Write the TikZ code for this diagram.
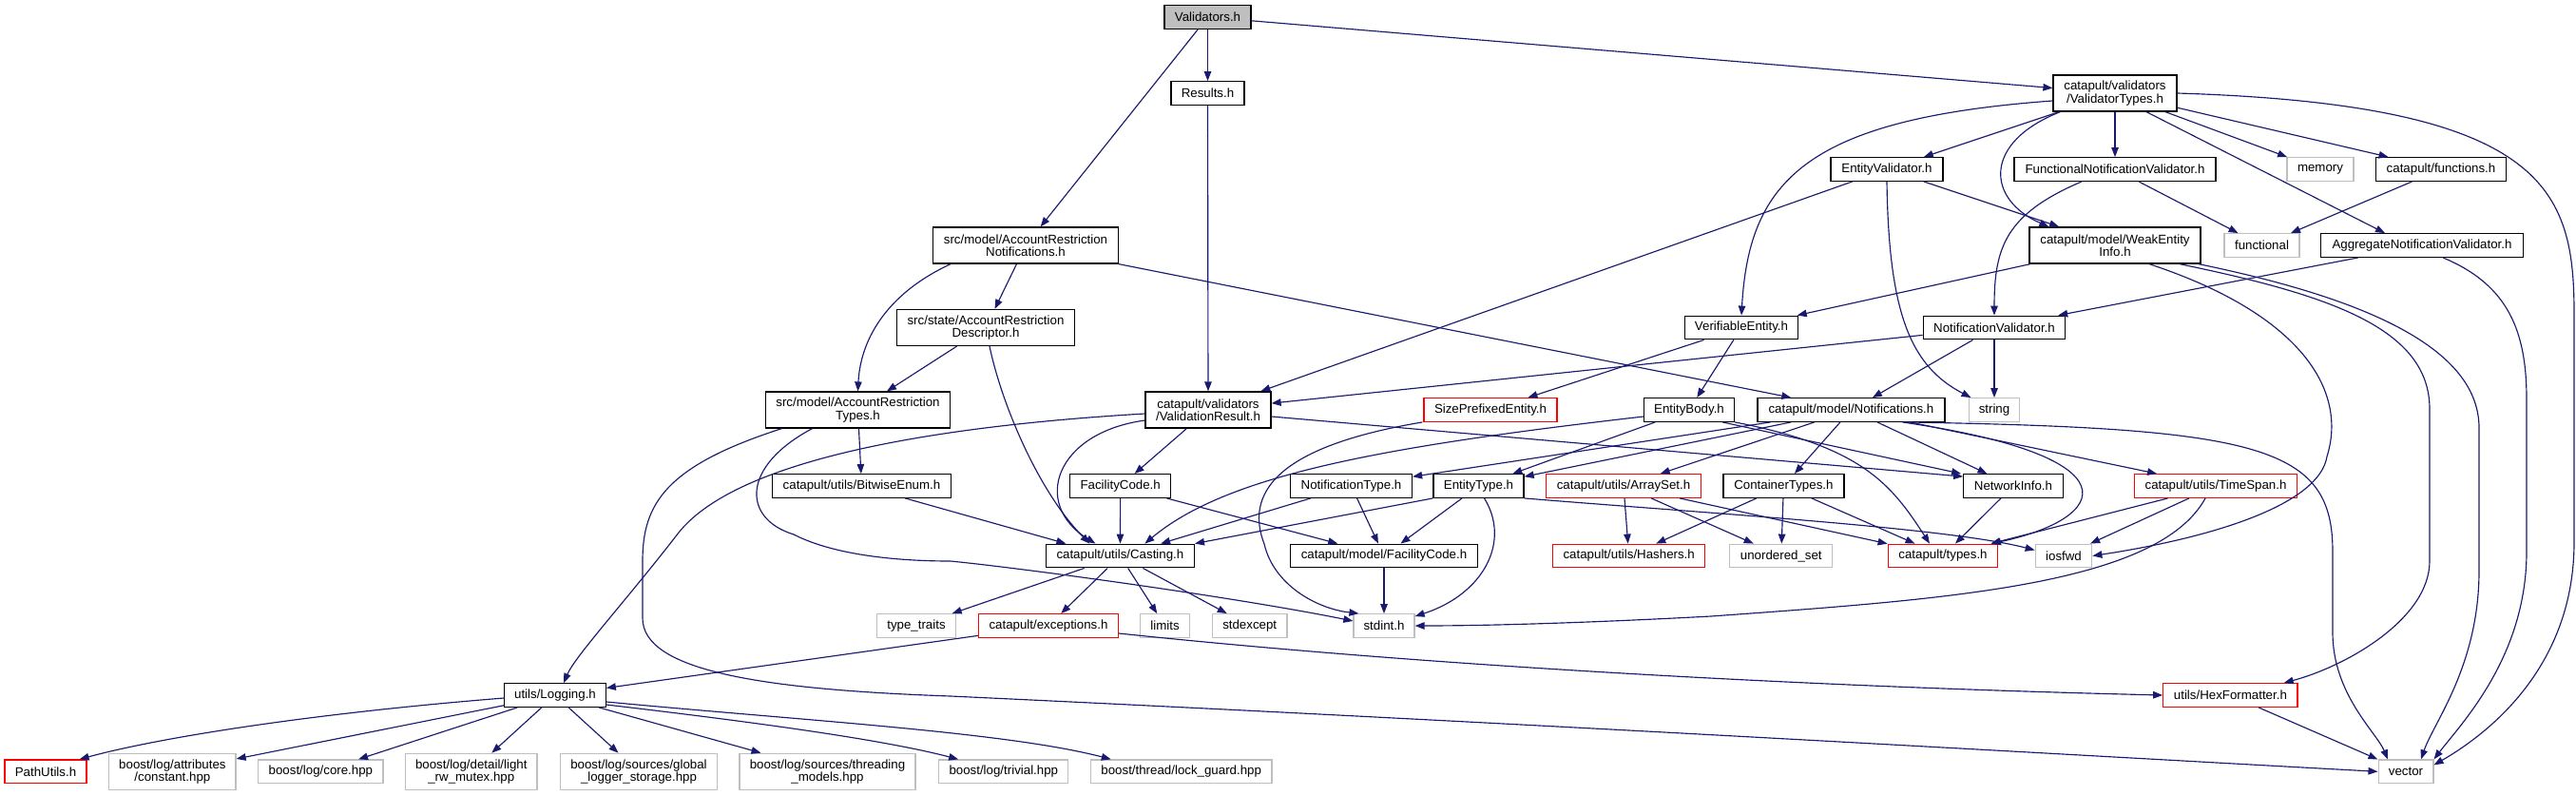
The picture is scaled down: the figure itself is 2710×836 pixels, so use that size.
\documentclass[tikz,border=0pt]{standalone}
\usepackage{fontspec}
\setmainfont{Liberation Sans}
\usetikzlibrary{arrows.meta}
\definecolor{edgeblue}{HTML}{191970}
\definecolor{sysgray}{HTML}{BFBFBF}
\definecolor{rootfill}{HTML}{BFBFBF}
\newcommand{\dxfont}{\fontsize{13.3}{13.4}\selectfont}
\tikzset{
  box/.style={draw=black, line width=1.25pt, rectangle, inner sep=0pt, minimum height=24.6pt, font=\dxfont, align=center, fill=white, text=black},
  sys/.style={box, draw=sysgray},
  trunc/.style={box, draw=red},
  two/.style={minimum height=38pt},
  e/.style={draw=edgeblue, line width=1.15pt, -{Triangle[length=10pt,width=7.5pt]}}
}
\begin{document}
\begin{tikzpicture}[x=1pt,y=-1pt]
\useasboundingbox (0,0) rectangle (2710,836);
% ---- nodes ----
\node[box,fill=rootfill,minimum width=91pt] (val) at (1270.5,18) {Validators.h};
\node[box,minimum width=77pt] (results) at (1270.5,98) {Results.h};
\node[box,two,minimum width=130pt] (vtypes) at (2225,98) {catapult/validators\\/ValidatorTypes.h};
\node[box,minimum width=118pt] (entval) at (1985,178) {EntityValidator.h};
\node[box,minimum width=212pt] (funcnv) at (2225,178) {FunctionalNotificationValidator.h};
\node[sys,minimum width=70pt] (memory) at (2441,178) {memory};
\node[box,minimum width=137pt] (functions) at (2568,178) {catapult/functions.h};
\node[box,two,minimum width=194.5pt] (arnotif) at (1079,258) {src/model/AccountRestriction\\Notifications.h};
\node[box,two,minimum width=180pt] (weak) at (2225,258) {catapult/model/WeakEntity\\Info.h};
\node[sys,minimum width=79pt] (functional) at (2379.5,258) {functional};
\node[box,minimum width=212.5pt] (aggr) at (2548,258) {AggregateNotificationValidator.h};
\node[box,two,minimum width=187pt] (desc) at (1037,344.5) {src/state/AccountRestriction\\Descriptor.h};
\node[box,minimum width=119.5pt] (verif) at (1832,344.5) {VerifiableEntity.h};
\node[box,minimum width=149.5pt] (notifval) at (2098,344.5) {NotificationValidator.h};
\node[box,two,minimum width=194pt] (artypes) at (902.5,431) {src/model/AccountRestriction\\Types.h};
\node[box,two,minimum width=132pt] (valres) at (1271,431) {catapult/validators\\/ValidationResult.h};
\node[trunc,minimum width=140pt] (sizepref) at (1568,431) {SizePrefixedEntity.h};
\node[box,minimum width=95pt] (entbody) at (1777,431) {EntityBody.h};
\node[box,minimum width=197pt] (notif) at (1947.4,431) {catapult/model/Notifications.h};
\node[sys,minimum width=53.7pt] (string) at (2098,431) {string};
\node[box,minimum width=188pt] (bitwise) at (906.5,511) {catapult/utils/BitwiseEnum.h};
\node[box,minimum width=106pt] (faccode) at (1178.7,511) {FacilityCode.h};
\node[box,minimum width=128pt] (nottype) at (1421.5,511) {NotificationType.h};
\node[box,minimum width=95pt] (enttype) at (1555.5,511) {EntityType.h};
\node[trunc,minimum width=163pt] (arrayset) at (1708,511) {catapult/utils/ArraySet.h};
\node[box,minimum width=127pt] (container) at (1876.4,511) {ContainerTypes.h};
\node[box,minimum width=104.5pt] (netinfo) at (2118,511) {NetworkInfo.h};
\node[trunc,minimum width=171.6pt] (timespan) at (2331,511) {catapult/utils/TimeSpan.h};
\node[box,minimum width=156pt] (casting) at (1178.4,584.5) {catapult/utils/Casting.h};
\node[box,minimum width=197pt] (mfaccode) at (1456,584.5) {catapult/model/FacilityCode.h};
\node[trunc,minimum width=160pt] (hashers) at (1713.7,584.5) {catapult/utils/Hashers.h};
\node[sys,minimum width=108pt] (unordset) at (1873.8,584.5) {unordered\_set};
\node[trunc,minimum width=115.6pt] (types) at (2044,584.5) {catapult/types.h};
\node[sys,minimum width=59.5pt] (iosfwd) at (2171,584.5) {iosfwd};
\node[sys,minimum width=83pt] (typetraits) at (964,658) {type\_traits};
\node[trunc,minimum width=147pt] (exceptions) at (1103,658) {catapult/exceptions.h};
\node[sys,minimum width=51.6pt] (limits) at (1225.5,658) {limits};
\node[sys,minimum width=78.6pt] (stdexcept) at (1314.7,658) {stdexcept};
\node[sys,minimum width=64pt] (stdint) at (1456,658) {stdint.h};
\node[box,minimum width=106.5pt] (logging) at (584,731) {utils/Logging.h};
\node[trunc,minimum width=141.3pt] (hexfmt) at (2346.4,731) {utils/HexFormatter.h};
\node[trunc,minimum width=86pt] (pathutils) at (48,811.3) {PathUtils.h};
\node[sys,two,minimum width=133.3pt] (constant) at (181.4,811.3) {boost/log/attributes\\/constant.hpp};
\node[sys,minimum width=131.4pt] (core) at (337.4,811.3) {boost/log/core.hpp};
\node[sys,two,minimum width=138.4pt] (light) at (495.8,811.3) {boost/log/detail/light\\\_rw\_mutex.hpp};
\node[sys,two,minimum width=164.5pt] (global) at (672,811.3) {boost/log/sources/global\\\_logger\_storage.hpp};
\node[sys,two,minimum width=185pt] (threading) at (870.5,811.3) {boost/log/sources/threading\\\_models.hpp};
\node[sys,minimum width=136pt] (trivial) at (1055.8,811.3) {boost/log/trivial.hpp};
\node[sys,minimum width=190.6pt] (lockguard) at (1242.7,811.3) {boost/thread/lock\_guard.hpp};
\node[sys,minimum width=57.8pt] (vector) at (2531,811.3) {vector};
% ---- edges ----
\draw[e] (val) -- (arnotif);
\draw[e] (val) -- (results);
\draw[e] (val) -- (vtypes);
\draw[e] (results) -- (valres);
\draw[e] (vtypes) -- (entval);
\draw[e] (vtypes) -- (funcnv);
\draw[e] (vtypes) -- (memory);
\draw[e] (vtypes) -- (functions);
\draw[e] ([xshift=33pt]vtypes.south) -- ([xshift=-39pt]aggr.north);
\draw[e] ([xshift=8pt]vtypes.south west) .. controls (2085,150) and (2090,210) .. ([xshift=21pt]weak.north west);
\draw[e] ([yshift=-8pt]vtypes.west) .. controls (1900,125) and (1840,190) .. (verif.north);
\draw[e] (vtypes.east) .. controls (2680,110) and (2708,200) .. (2708,330) -- (2708,570) .. controls (2708,700) and (2620,770) .. ([yshift=-6pt]vector.north east);
\draw[e] (entval) -- (valres);
\draw[e] (entval) -- (weak);
\draw[e] (entval.south) .. controls (1987,330) and (2010,385) .. ([xshift=3pt]string.north west);
\draw[e] ([xshift=-35pt]funcnv.south) .. controls (2110,225) and (2098,260) .. (notifval.north);
\draw[e] (funcnv) -- (functional);
\draw[e] (functions) -- (functional);
\draw[e] (aggr) -- (notifval);
\draw[e] ([xshift=22pt]aggr.south) .. controls (2640,300) and (2658,350) .. (2658,420) -- (2658,580) .. controls (2658,690) and (2590,760) .. (vector.north east);
\draw[e] ([xshift=19pt]arnotif.south west) .. controls (930,310) and (905,360) .. (artypes.north);
\draw[e] (arnotif) -- (desc);
\draw[e] (arnotif.south east) -- ([xshift=36pt]notif.north west);
\draw[e] (weak) -- (verif);
\draw[e] ([xshift=36pt]weak.south) .. controls (2420,330) and (2470,410) .. (2448,480) .. controls (2440,530) and (2330,565) .. (iosfwd.east);
\draw[e] ([xshift=68pt]weak.south) .. controls (2450,310) and (2556,345) .. (2556,430) -- (2556,590) .. controls (2556,650) and (2470,700) .. ([xshift=-15pt]hexfmt.north east);
\draw[e] ([xshift=88pt]weak.south) .. controls (2470,310) and (2608,360) .. (2608,450) -- (2608,600) .. controls (2608,700) and (2560,760) .. ([xshift=16pt]vector.north);
\draw[e] (desc) -- (artypes);
\draw[e] ([xshift=4pt]desc.south) .. controls (1055,430) and (1095,520) .. ([xshift=-32pt]casting.north);
\draw[e] (verif) -- (sizepref);
\draw[e] (verif) -- (entbody);
\draw[e] (notifval) -- (valres);
\draw[e] (notifval) -- (notif);
\draw[e] (notifval) -- (string);
\draw[e] (artypes) -- (bitwise);
\draw[e] ([xshift=-48pt]artypes.south) .. controls (780,490) and (780,545) .. (835,562) .. controls (880,585) and (950,590) .. (1000,590) .. controls (1080,598) and (1300,628) .. ([yshift=5pt]stdint.west);
\draw[e] ([xshift=-80pt]artypes.south) .. controls (700,490) and (676,530) .. (676,590) -- (676,650) .. controls (676,705) and (800,725) .. (1000,732) .. controls (1600,760) and (2200,795) .. (vector.west);
\draw[e] ([yshift=-4pt]valres.west) .. controls (950,450) and (770,490) .. (714,560) .. controls (660,630) and (605,690) .. ([xshift=9pt]logging.north);
\draw[e] ([yshift=-11pt]valres.west) .. controls (1110,455) and (1085,530) .. ([xshift=-26pt]casting.north);
\draw[e] (valres) -- (faccode);
\draw[e] ([yshift=-7pt]valres.east) -- ([yshift=-3pt]netinfo.north west);
\draw[e] ([xshift=-1pt]sizepref.south west) .. controls (1340,470) and (1310,520) .. (1330,572) .. controls (1340,615) and (1385,640) .. ([xshift=6pt]stdint.north west);
\draw[e] ([yshift=-7pt]entbody.west) .. controls (1450,470) and (1290,500) .. ([xshift=26pt]casting.north);
\draw[e] (entbody) -- (enttype);
\draw[e] ([xshift=-13pt]entbody.south east) -- ([xshift=-2pt]netinfo.north west);
\draw[e] (entbody.south east) .. controls (1960,470) and (1990,510) .. ([xshift=-14pt]types.north);
\draw[e] (notif) -- (nottype);
\draw[e] (notif) -- (enttype);
\draw[e] (notif) -- (arrayset);
\draw[e] (notif) -- (container);
\draw[e] (notif) -- (netinfo);
\draw[e] (notif) -- (timespan);
\draw[e] ([xshift=54pt]notif.south) .. controls (2250,480) and (2220,545) .. ([xshift=51pt]types.north);
\draw[e] ([xshift=57pt]notif.south) .. controls (2380,450) and (2454,470) .. (2454,580) -- (2454,665) .. controls (2454,730) and (2500,770) .. ([xshift=-19pt]vector.north);
\draw[e] (bitwise) -- ([xshift=-57pt]casting.north);
\draw[e] (faccode) -- (casting);
\draw[e] (faccode) -- (mfaccode);
\draw[e] (nottype) -- (casting);
\draw[e] (nottype) -- (mfaccode);
\draw[e] (enttype.south west) -- (casting.north east);
\draw[e] (enttype) -- (mfaccode);
\draw[e] ([xshift=6pt]enttype.south) .. controls (1590,570) and (1560,625) .. ([yshift=-3pt]stdint.north east);
\draw[e] (enttype.south east) .. controls (1800,540) and (2050,555) .. ([yshift=6pt]iosfwd.west);
\draw[e] (arrayset) -- (hashers);
\draw[e] (arrayset) -- (unordset);
\draw[e] (arrayset) -- (types);
\draw[e] (container) -- (hashers);
\draw[e] (container) -- (unordset);
\draw[e] (container) -- (types);
\draw[e] (netinfo) -- (types);
\draw[e] (timespan) -- (types);
\draw[e] (timespan) -- (iosfwd);
\draw[e] ([xshift=-11pt]timespan.south) .. controls (2270,615) and (2050,630) .. (1800,648) .. controls (1650,656) and (1550,658) .. (stdint.east);
\draw[e] (casting) -- (typetraits);
\draw[e] (casting) -- (exceptions);
\draw[e] (casting) -- (limits);
\draw[e] (casting) -- (stdexcept);
\draw[e] (mfaccode) -- (stdint);
\draw[e] (exceptions) -- (logging);
\draw[e] ([yshift=-8pt]exceptions.east) .. controls (1500,700) and (1900,722) .. (hexfmt.west);
\draw[e] ([yshift=-3pt]logging.west) .. controls (330,750) and (170,775) .. ([xshift=-8pt]pathutils.north east);
\draw[e] (logging) -- (constant);
\draw[e] (logging) -- (core);
\draw[e] (logging) -- (light);
\draw[e] (logging) -- (global);
\draw[e] (logging) -- (threading);
\draw[e] ([yshift=-10pt]logging.east) .. controls (800,760) and (930,778) .. ([xshift=21pt]trivial.north west);
\draw[e] ([yshift=-7pt]logging.east) .. controls (850,758) and (1060,770) .. ([xshift=22pt]lockguard.north west);
\draw[e] (hexfmt) -- (vector);
\end{tikzpicture}
\end{document}
